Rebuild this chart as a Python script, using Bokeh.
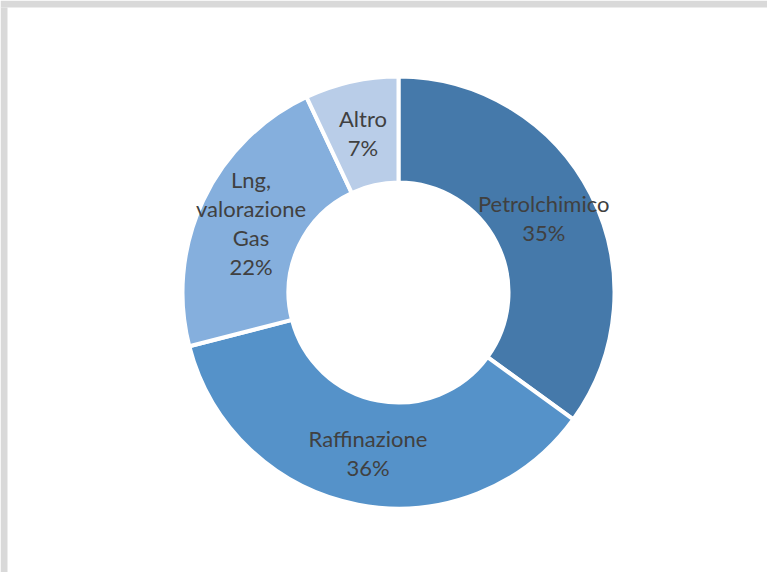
import math
from bokeh.plotting import figure
from bokeh.models import Range1d, ColumnDataSource
from bokeh.core.properties import value
from bokeh.embed import file_html
from bokeh.resources import INLINE

categories = ["Petrolchimico", "Raffinazione", "Lng,\nvalorazione\nGas", "Altro"]
shares = [35, 36, 22, 7]
colors = ["#4579AA", "#5592C9", "#85AFDD", "#B9CDE8"]

W, H = 767, 572
cx, cy = 398, H - 292
r_out, r_in = 216, 110

total = sum(shares)
starts, ends, mids = [], [], []
acc = 0
for s in shares:
    a0 = math.pi / 2 - acc / total * 2 * math.pi
    acc += s
    a1 = math.pi / 2 - acc / total * 2 * math.pi
    starts.append(a0)
    ends.append(a1)
    mids.append((a0 + a1) / 2)

p = figure(width=W, height=H, output_backend="svg", toolbar_location=None,
           x_range=Range1d(0, W), y_range=Range1d(0, H), min_border=0)
p.axis.visible = False
p.grid.visible = False
p.outline_line_color = None
p.background_fill_color = "white"
p.border_fill_color = "white"

# screenshot frame (grey band at top and left)
p.quad(left=[0, 0], right=[W, 7], bottom=[H - 7, 0], top=[H, H - 7],
       fill_color="#D9D9D9", line_color=None)

src = ColumnDataSource(dict(start=starts, end=ends, color=colors))
p.annular_wedge(x=cx, y=cy, inner_radius=r_in, outer_radius=r_out,
                start_angle="start", end_angle="end", direction="clock",
                fill_color="color", line_color="white", line_width=4, source=src)

r_mid = (r_in + r_out) / 2
line_gap = 29
tx, ty, tt = [], [], []
for cat, s, m in zip(categories, shares, mids):
    lx = cx + r_mid * math.cos(m)
    ly = cy + r_mid * math.sin(m)
    lines = cat.split("\n") + [f"{s}%"]
    n = len(lines)
    for i, ln in enumerate(lines):
        tx.append(lx)
        ty.append(ly + ((n - 1) / 2 - i) * line_gap)
        tt.append(ln)

p.text(x=tx, y=ty, text=tt, text_align="center", text_baseline="middle",
       text_font=value("Lato"), text_font_size="22px", text_color="#404040")

open("out.html", "w").write(file_html(p, INLINE))
